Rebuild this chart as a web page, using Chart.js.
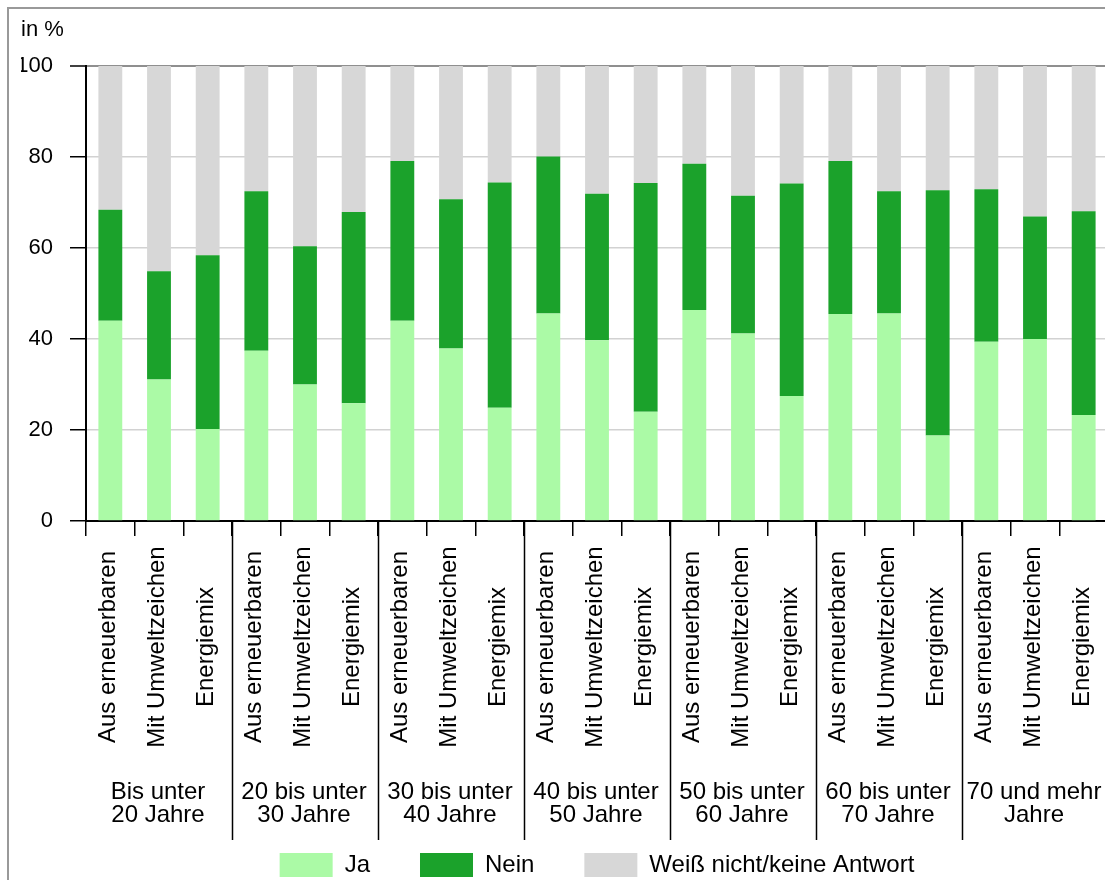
<!DOCTYPE html>
<html lang="de">
<head>
<meta charset="utf-8">
<title>Stromtarif nach Alter</title>
<script src="https://cdn.jsdelivr.net/npm/chart.js@4.4.1/dist/chart.umd.min.js"></script>
<style>
    html, body { margin: 0; padding: 0; background: #fff; overflow: hidden; }
    #wrap { position: relative; width: 1105px; height: 880px; overflow: hidden; }
    #canvas { position: absolute; left: 0; top: 0; }
    #frame {
        position: absolute; left: 7px; top: 7px; width: 1200px; height: 1000px;
        border-left: 2px solid #999; border-top: 2px solid #999; pointer-events: none;
    }
</style>
</head>
<body>
<div id="wrap">
    <div id="frame"></div>
    <canvas id="canvas" width="1110" height="880"></canvas>
</div>
<script>
// age groups (two text lines each) and the three answers asked per group
var groups = [
    ['Bis unter', '20 Jahre'],
    ['20 bis unter', '30 Jahre'],
    ['30 bis unter', '40 Jahre'],
    ['40 bis unter', '50 Jahre'],
    ['50 bis unter', '60 Jahre'],
    ['60 bis unter', '70 Jahre'],
    ['70 und mehr', 'Jahre']
];
var answers = ['Aus erneuerbaren', 'Mit Umweltzeichen', 'Energiemix'];

// in %, in the order group 1 (3 bars), group 2 (3 bars), ...
var ja = [44.0, 31.1, 20.2, 37.4, 30.0, 25.9, 44.0, 37.9, 24.9, 45.6, 39.7, 24.0,
    46.4, 41.2, 27.5, 45.5, 45.6, 18.8, 39.4, 40.0, 23.3];
var nein = [24.4, 23.8, 38.2, 35.1, 30.4, 42.0, 35.1, 32.8, 49.5, 34.5, 32.2, 50.3,
    32.1, 30.3, 46.7, 33.6, 26.9, 53.9, 33.5, 26.9, 44.8];
var weissNicht = [31.6, 45.1, 41.6, 27.5, 39.6, 32.1, 20.9, 29.3, 25.6, 19.9, 28.1, 25.7,
    21.5, 28.5, 25.8, 20.9, 27.5, 27.3, 27.1, 33.1, 31.9];

var yTicks = [0, 20, 40, 60, 80, 100];

var labels = [];
groups.forEach(function() {
    answers.forEach(function(a) { labels.push(a); });
});

var FONT = '"Liberation Sans", Arial, Helvetica, sans-serif';

// rotated bar labels, age group labels and group separators below the x axis
var groupAxis = {
    id: 'groupAxis',
    afterDraw: function(chart) {
        var ctx = chart.ctx,
            x = chart.scales.x,
            bottom = chart.chartArea.bottom,
            n = answers.length;
        ctx.save();
        ctx.fillStyle = '#000';
        ctx.strokeStyle = '#000';
        ctx.font = '24px ' + FONT;

        labels.forEach(function(txt, i) {
            ctx.save();
            ctx.translate(x.getPixelForValue(i) + 5, 647);
            ctx.rotate(-Math.PI / 2);
            ctx.textAlign = 'center';
            ctx.textBaseline = 'alphabetic';
            ctx.fillText(txt, 0, 0);
            ctx.restore();
        });

        var half = (x.getPixelForValue(1) - x.getPixelForValue(0)) / 2;
        ctx.lineWidth = 1.5;
        groups.forEach(function(g, k) {
            if (k > 0) {
                var sx = Math.round(x.getPixelForValue(k * n) - half) + 0.5;
                ctx.beginPath();
                ctx.moveTo(sx, bottom);
                ctx.lineTo(sx, 840);
                ctx.stroke();
            }
            var cx = x.getPixelForValue(k * n + 1) - 1;
            ctx.textAlign = 'center';
            ctx.textBaseline = 'alphabetic';
            ctx.fillText(g[0], cx, 799);
            ctx.fillText(g[1], cx, 822);
        });
        ctx.restore();
    }
};

window.onload = function() {
    var ctx = document.getElementById('canvas').getContext('2d');
    window.myBar = new Chart(ctx, {
        type: 'bar',
        data: {
            labels: labels,
            datasets: [{
                label: 'Ja',
                data: ja,
                backgroundColor: '#abfaa6',
                borderWidth: 0
            }, {
                label: 'Nein',
                data: nein,
                backgroundColor: '#1ba22b',
                borderWidth: 0
            }, {
                label: 'Weiß nicht/keine Antwort',
                data: weissNicht,
                backgroundColor: '#d7d7d7',
                borderWidth: 0
            }]
        },
        options: {
            responsive: false,
            animation: false,
            devicePixelRatio: 1,
            layout: {
                padding: { left: 21, right: 2, top: 0, bottom: 0 }
            },
            datasets: {
                bar: { categoryPercentage: 1, barPercentage: 0.49 }
            },
            scales: {
                x: {
                    stacked: true,
                    ticks: { display: false },
                    grid: {
                        offset: true,
                        drawOnChartArea: false,
                        drawTicks: true,
                        tickLength: 15,
                        color: '#000',
                        lineWidth: 1.5
                    },
                    border: { display: true, color: '#000', width: 2 },
                    afterFit: function(scale) { scale.height = 282; }
                },
                y: {
                    stacked: true,
                    min: 0,
                    max: 100,
                    afterBuildTicks: function(scale) {
                        scale.ticks = yTicks.map(function(v) { return { value: v }; });
                    },
                    ticks: {
                        color: '#000',
                        padding: 17,
                        font: { family: FONT, size: 22 }
                    },
                    grid: {
                        color: function(c) {
                            return c.tick && c.tick.value === 100 ? '#8f8f8f' : '#d2d2d2';
                        },
                        lineWidth: function(c) {
                            return c.tick && c.tick.value === 100 ? 2 : 1.5;
                        },
                        tickColor: '#000',
                        tickLength: 16,
                        tickWidth: 1.5
                    },
                    border: { display: true, color: '#000', width: 2 },
                    afterFit: function(scale) { scale.width = 65; }
                }
            },
            plugins: {
                title: {
                    display: true,
                    text: 'in %',
                    align: 'start',
                    color: '#000',
                    font: { family: FONT, size: 22, weight: 'normal' },
                    padding: { top: 17, bottom: 22.6 }
                },
                legend: {
                    position: 'bottom',
                    fullSize: false,
                    align: 'center',
                    maxHeight: 77,
                    labels: {
                        color: '#000',
                        font: { family: FONT, size: 24 },
                        boxWidth: 53,
                        boxHeight: 24,
                        padding: 50
                    }
                },
                tooltip: { enabled: false }
            }
        },
        plugins: [groupAxis]
    });
};
</script>
</body>
</html>
